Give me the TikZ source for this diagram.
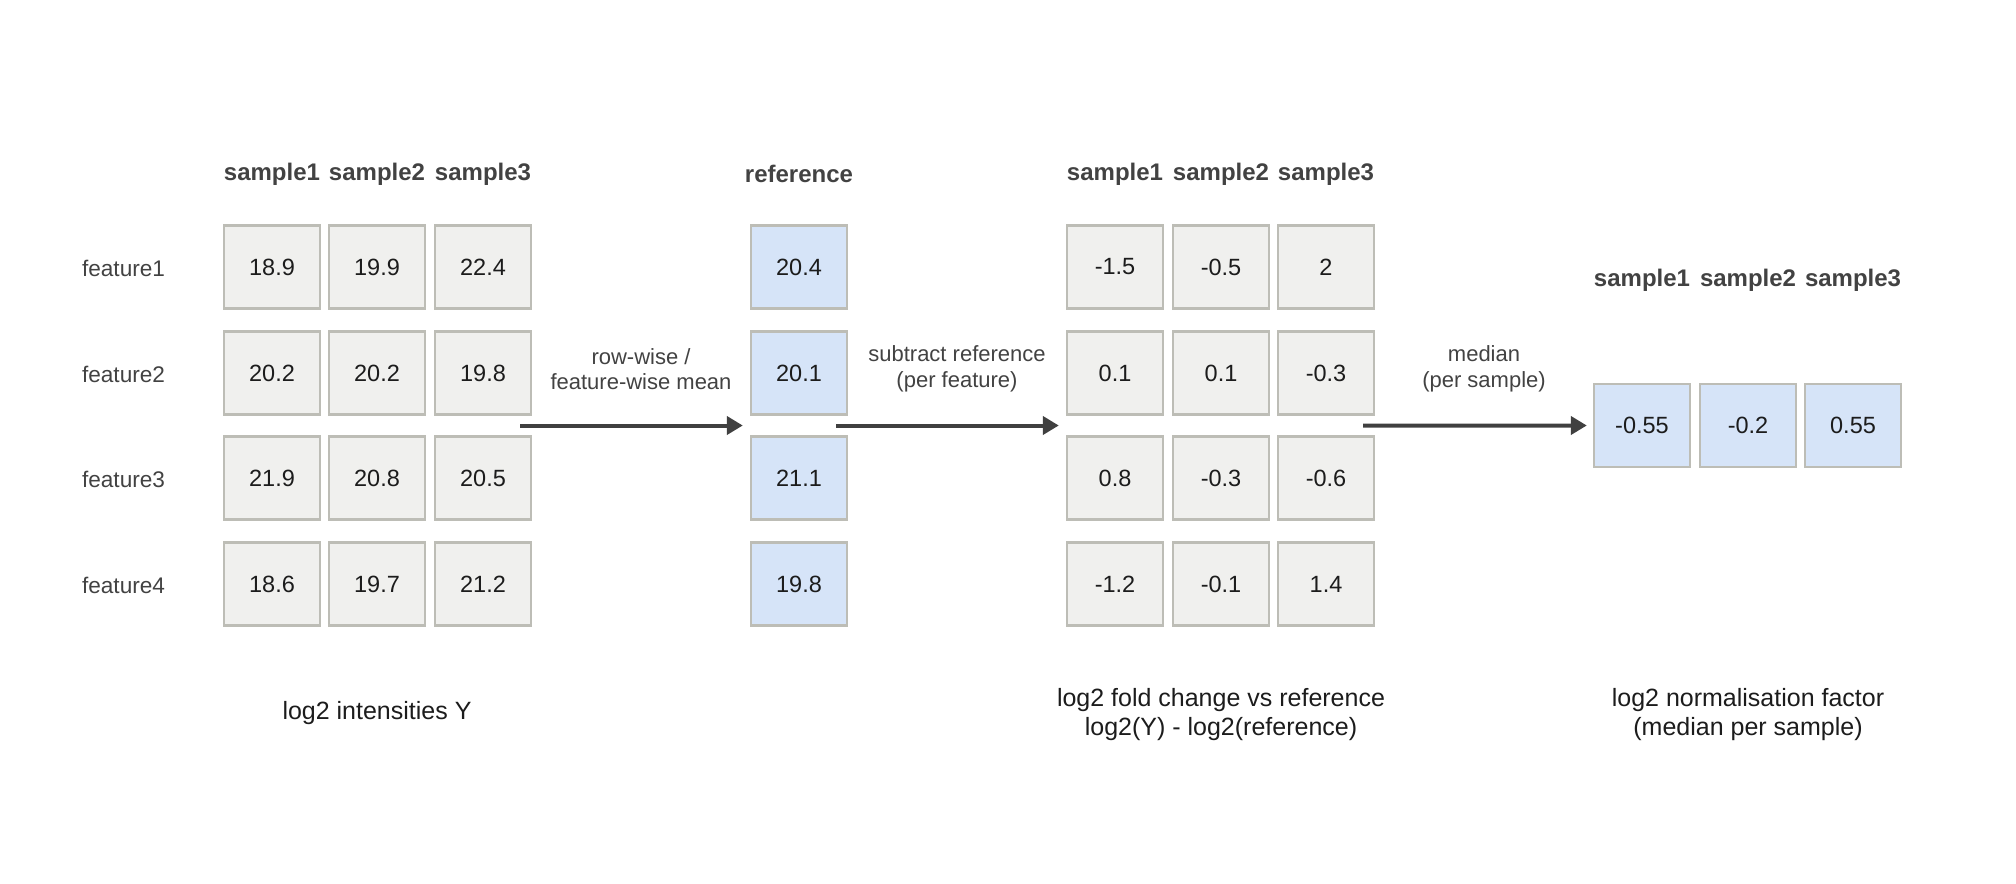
\documentclass[tikz,border=0pt]{standalone}
\usepackage{fontspec}
\setmainfont{Liberation Sans}
\usetikzlibrary{arrows.meta,calc}
\definecolor{cellgrey}{HTML}{F0F0EE}
\definecolor{cellblue}{HTML}{D6E4F8}
\definecolor{cellline}{HTML}{BDBDB6}
\definecolor{darkline}{HTML}{404040}
\definecolor{labeltext}{HTML}{424242}
\definecolor{numtext}{HTML}{1C1C1C}

\begin{document}
\begin{tikzpicture}[x=0.5pt,y=-0.5pt,
    grey cell/.style={rectangle,draw=cellline,fill=cellgrey,line width=1.2pt,minimum width=48pt,minimum height=41.5pt,inner sep=0pt,font=\fontsize{11.75}{14}\selectfont,text=numtext},
    blue cell/.style={grey cell,fill=cellblue},
    col head/.style={font=\fontsize{12}{14}\selectfont\bfseries,text=labeltext},
    row label/.style={anchor=west,font=\fontsize{11.3}{13}\selectfont,text=labeltext},
    op label/.style={align=center,font=\fontsize{11}{12.85}\selectfont,text=labeltext},
    bottom text/.style={align=center,font=\fontsize{12.5}{14.2}\selectfont,text=numtext},
    flow/.style={draw=darkline,line width=2pt,-{Triangle[length=8pt,width=9pt]}}]
        \useasboundingbox (0,0) rectangle (2016,883);

        % log2 intensities
        \node[col head] at (272, 174) (ha1) {sample1};
        \node[col head] at (377, 174) (ha2) {sample2};
        \node[col head] at (483, 174) (ha3) {sample3};

        \node[row label] at (75, 268) (f1) {feature1};
        \node[row label] at (75, 374) (f2) {feature2};
        \node[row label] at (75, 479) (f3) {feature3};
        \node[row label] at (75, 585) (f4) {feature4};

        \node[grey cell] at (272, 267) (a11) {18.9};
        \node[grey cell] at (377, 267) (a12) {19.9};
        \node[grey cell] at (483, 267) (a13) {22.4};
        \node[grey cell] at (272, 373) (a21) {20.2};
        \node[grey cell] at (377, 373) (a22) {20.2};
        \node[grey cell] at (483, 373) (a23) {19.8};
        \node[grey cell] at (272, 478) (a31) {21.9};
        \node[grey cell] at (377, 478) (a32) {20.8};
        \node[grey cell] at (483, 478) (a33) {20.5};
        \node[grey cell] at (272, 584) (a41) {18.6};
        \node[grey cell] at (377, 584) (a42) {19.7};
        \node[grey cell] at (483, 584) (a43) {21.2};

        \node[bottom text] at (377, 713) (capa) {log2 intensities Y};

        % reference
        \node[col head] at (799, 174) (hr) {reference};
        \node[blue cell] at (799, 267) (r1) {20.4};
        \node[blue cell] at (799, 373) (r2) {20.1};
        \node[blue cell] at (799, 478) (r3) {21.1};
        \node[blue cell] at (799, 584) (r4) {19.8};

        % log2 fold changes
        \node[col head] at (1115, 174) (hc1) {sample1};
        \node[col head] at (1221, 174) (hc2) {sample2};
        \node[col head] at (1326, 174) (hc3) {sample3};

        \node[grey cell] at (1115, 267) (c11) {-1.5};
        \node[grey cell] at (1221, 267) (c12) {-0.5};
        \node[grey cell] at (1326, 267) (c13) {2};
        \node[grey cell] at (1115, 373) (c21) {0.1};
        \node[grey cell] at (1221, 373) (c22) {0.1};
        \node[grey cell] at (1326, 373) (c23) {-0.3};
        \node[grey cell] at (1115, 478) (c31) {0.8};
        \node[grey cell] at (1221, 478) (c32) {-0.3};
        \node[grey cell] at (1326, 478) (c33) {-0.6};
        \node[grey cell] at (1115, 584) (c41) {-1.2};
        \node[grey cell] at (1221, 584) (c42) {-0.1};
        \node[grey cell] at (1326, 584) (c43) {1.4};

        \node[bottom text] at (1221, 714.5) (capc) {log2 fold change vs reference\\log2(Y) - log2(reference)};

        % normalisation factors
        \node[col head] at (1642, 280) (hn1) {sample1};
        \node[col head] at (1748, 280) (hn2) {sample2};
        \node[col head] at (1853, 280) (hn3) {sample3};

        \node[blue cell] at (1642, 425.5) (n1) {-0.55};
        \node[blue cell] at (1748, 425.5) (n2) {-0.2};
        \node[blue cell] at (1853, 425.5) (n3) {0.55};

        \node[bottom text] at (1748, 714.5) (capn) {log2 normalisation factor\\(median per sample)};

        % steps
        \node[op label] at (641, 369) (op1) {row-wise /\\feature-wise mean};
        \node[op label] at (957, 369) (op2) {subtract reference\\(per feature)};
        \node[op label] at (1484, 369) (op3) {median\\(per sample)};

        \draw[flow] ($(a23.south east)!.5!(a33.north east)+(-12,0)$) -- ($(r2.south west)!.5!(r3.north west)+(-7,0)$);
        \draw[flow] ($(r2.south east)!.5!(r3.north east)+(-12,0)$) -- ($(c21.south west)!.5!(c31.north west)+(-7,0)$);
        \draw[flow] ($(c23.south east)!.5!(c33.north east)+(-12,0)$) -- ($(n1.west)+(-6,0)$);
        \end{tikzpicture}
\end{document}
